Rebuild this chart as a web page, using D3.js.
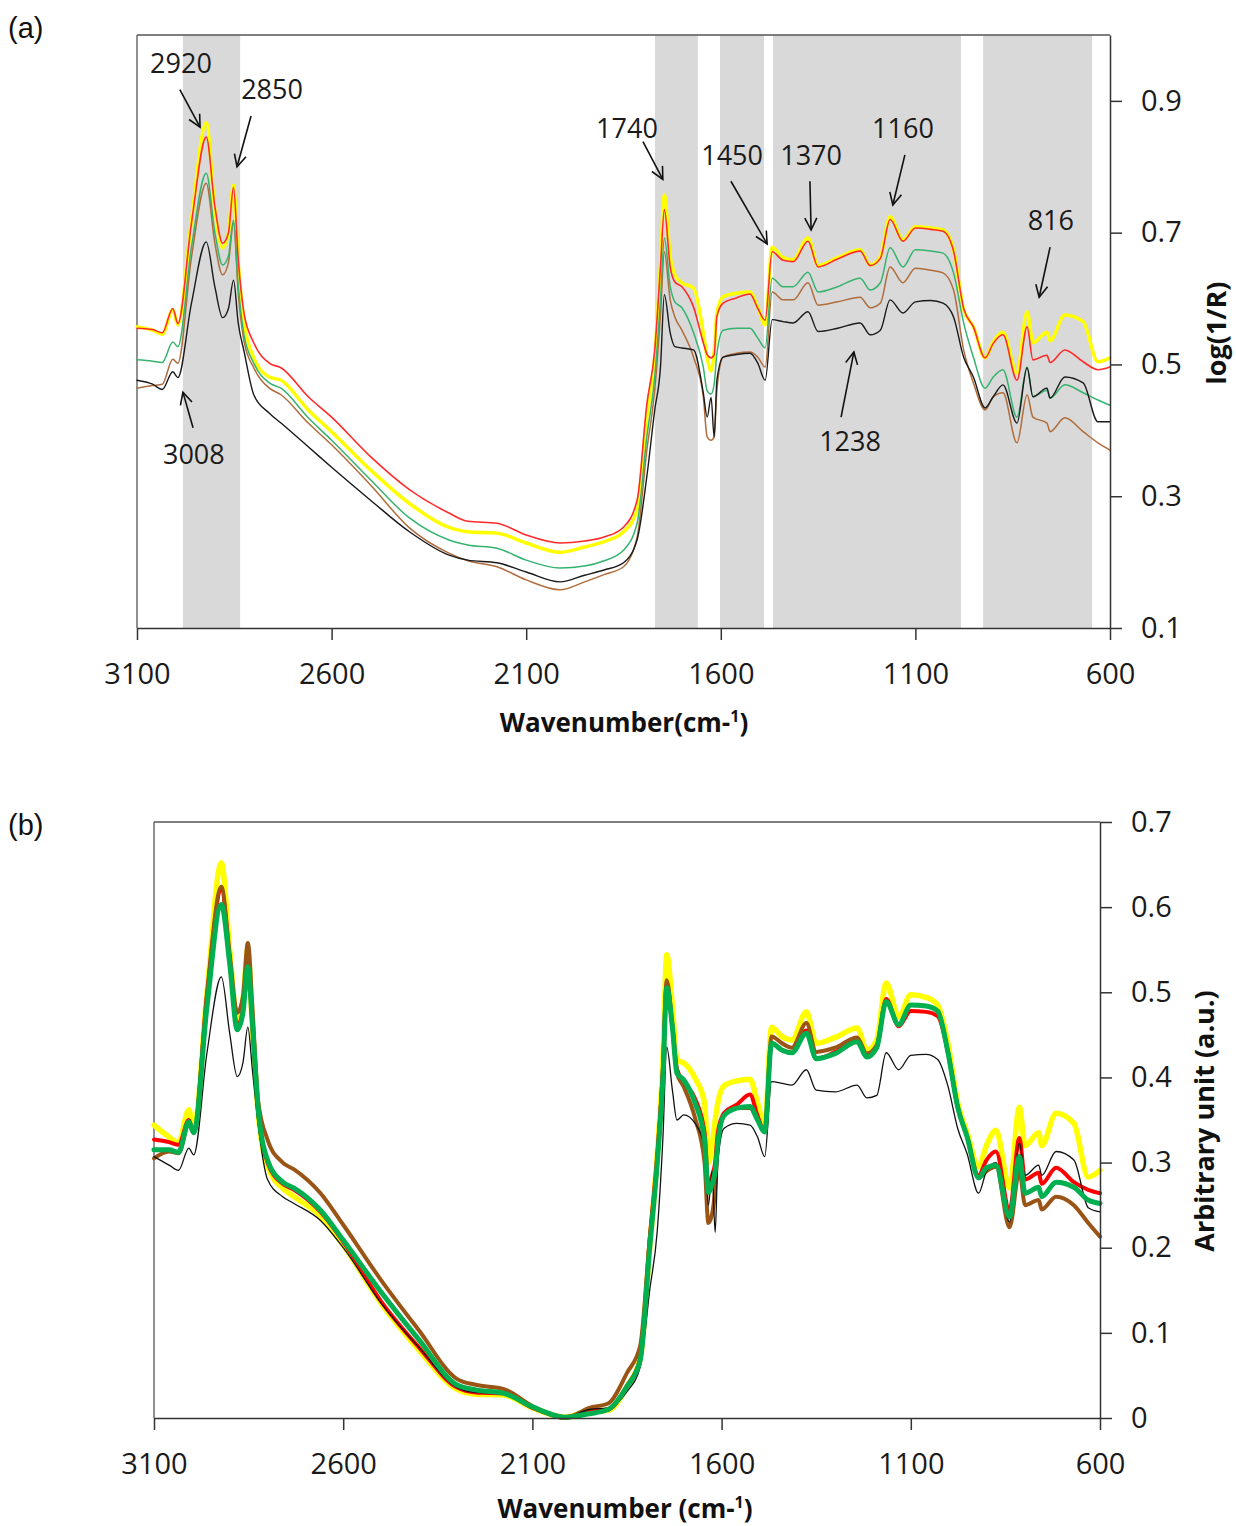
<!DOCTYPE html>
<html>
<head>
<meta charset="utf-8">
<script src="https://cdn.jsdelivr.net/npm/d3@7"></script>
<style>
  html, body { margin: 0; padding: 0; background: #fff; }
  svg { display: block; }
</style>
</head>
<body>
<svg id="chart" width="1236" height="1526"></svg>
<script>
// ---------- data ----------
const wavenumbers = [3100,3060,3035,3008,2995,2960,2922,2900,2880,2865,2852,2840,2825,2800,2760,2730,2660,2600,2500,2400,2300,2250,2175,2100,2013,1950,1900,1850,1815,1790,1770,1755,1745,1730,1718,1700,1670,1645,1635,1625,1617,1610,1594,1560,1525,1505,1486,1468,1440,1414,1376,1350,1300,1242,1216,1190,1165,1132,1100,1060,1029,1002,976,951,921,900,875,839,813,798,762,754,716,669,631,600];

// panel (a): log(1/R)
const aYellow = [.557,.552,.546,.583,.560,.719,.867,.735,.677,.700,.772,.655,.565,.510,.481,.476,.431,.398,.340,.289,.253,.246,.244,.229,.215,.223,.231,.246,.279,.42,.51,.65,.757,.663,.636,.624,.616,.548,.51,.49,.52,.578,.603,.608,.610,.587,.560,.678,.662,.659,.692,.650,.662,.674,.651,.663,.724,.689,.709,.707,.704,.674,.583,.557,.510,.534,.549,.487,.580,.533,.549,.536,.575,.565,.504,.510];
const aRed    = [.555,.553,.548,.585,.562,.715,.845,.740,.684,.700,.769,.660,.578,.533,.502,.495,.451,.420,.360,.310,.275,.262,.259,.241,.229,.232,.238,.253,.294,.44,.52,.648,.735,.648,.625,.618,.587,.533,.515,.51,.515,.573,.593,.601,.607,.585,.567,.671,.658,.656,.687,.648,.660,.672,.650,.661,.720,.687,.707,.705,.702,.672,.585,.557,.510,.532,.545,.476,.557,.507,.514,.503,.522,.504,.492,.496];
const aGreen  = [.507,.505,.503,.534,.527,.678,.790,.700,.651,.665,.719,.620,.545,.502,.472,.464,.419,.385,.325,.267,.234,.226,.221,.203,.191,.194,.202,.218,.259,.39,.48,.598,.692,.618,.595,.586,.548,.496,.46,.455,.47,.517,.552,.555,.555,.540,.525,.631,.618,.618,.640,.610,.618,.631,.613,.624,.677,.648,.674,.672,.669,.639,.563,.511,.464,.481,.492,.420,.496,.451,.461,.449,.469,.457,.446,.438];
const aBrown  = [.464,.468,.470,.508,.502,.663,.775,.684,.636,.655,.715,.610,.535,.495,.464,.454,.411,.378,.317,.252,.214,.202,.193,.173,.158,.170,.181,.193,.238,.37,.46,.575,.671,.598,.572,.552,.511,.451,.39,.385,.39,.461,.511,.517,.519,.511,.496,.610,.598,.598,.624,.590,.595,.602,.586,.593,.648,.624,.646,.643,.639,.613,.522,.472,.431,.451,.457,.381,.454,.420,.411,.398,.419,.398,.381,.370];
const aBlack  = [.476,.470,.462,.489,.480,.593,.686,.618,.571,.585,.628,.563,.520,.454,.426,.411,.375,.344,.294,.246,.211,.203,.199,.185,.170,.180,.188,.199,.234,.33,.43,.496,.606,.548,.527,.525,.522,.457,.42,.45,.39,.476,.511,.515,.517,.502,.476,.568,.565,.563,.580,.550,.555,.563,.545,.552,.598,.578,.595,.597,.593,.572,.511,.481,.434,.451,.469,.411,.495,.451,.464,.449,.481,.472,.413,.413];

// panel (b): arbitrary unit
const bYellow = [.344,.330,.323,.362,.338,.499,.652,.550,.465,.490,.550,.460,.360,.296,.270,.260,.237,.203,.135,.080,.034,.028,.027,.012,.001,.008,.009,.037,.070,.20,.31,.42,.544,.483,.420,.417,.399,.370,.30,.32,.35,.370,.390,.396,.398,.370,.342,.459,.448,.444,.477,.440,.447,.458,.432,.444,.511,.471,.497,.494,.485,.440,.370,.335,.295,.320,.338,.270,.365,.320,.335,.320,.358,.346,.283,.291];
const bRed    = [.327,.324,.321,.350,.336,.495,.620,.540,.460,.480,.535,.460,.363,.300,.275,.268,.242,.207,.137,.083,.036,.030,.029,.012,.001,.008,.010,.038,.070,.21,.31,.41,.510,.460,.410,.395,.375,.335,.27,.285,.30,.335,.358,.368,.380,.355,.336,.440,.432,.429,.455,.422,.430,.444,.425,.435,.492,.460,.478,.477,.472,.430,.365,.330,.285,.303,.313,.244,.329,.280,.288,.275,.294,.277,.268,.264];
const bGreen  = [.315,.315,.312,.348,.335,.483,.603,.534,.456,.476,.530,.464,.365,.303,.277,.270,.244,.209,.148,.092,.039,.033,.029,.013,.001,.005,.010,.037,.068,.20,.30,.40,.505,.459,.405,.397,.370,.327,.265,.275,.29,.323,.355,.364,.366,.350,.336,.440,.432,.429,.452,.422,.428,.442,.424,.435,.489,.462,.485,.484,.478,.430,.365,.330,.282,.294,.297,.236,.307,.264,.271,.260,.277,.271,.256,.252];
const bBrown  = [.305,.313,.311,.345,.335,.499,.624,.545,.476,.495,.558,.483,.373,.327,.300,.292,.264,.227,.162,.103,.046,.039,.034,.014,.000,.012,.017,.053,.085,.21,.30,.41,.514,.460,.405,.389,.352,.300,.229,.24,.27,.323,.355,.364,.364,.350,.336,.448,.440,.435,.464,.430,.435,.447,.428,.438,.490,.462,.485,.484,.478,.430,.365,.330,.282,.290,.295,.224,.290,.250,.256,.245,.260,.250,.229,.213];
const bBlack  = [.307,.297,.291,.317,.309,.429,.518,.452,.401,.417,.459,.409,.346,.280,.260,.252,.232,.200,.135,.083,.036,.030,.029,.012,.001,.010,.012,.031,.060,.15,.22,.33,.436,.385,.350,.356,.346,.318,.25,.29,.218,.30,.340,.346,.344,.330,.307,.395,.393,.391,.409,.385,.383,.391,.376,.379,.429,.409,.426,.427,.421,.390,.340,.310,.264,.290,.300,.230,.323,.285,.297,.285,.313,.303,.247,.242];

const xTickValues = [3100,2600,2100,1600,1100,600];
const aYTickValues = [0.1,0.3,0.5,0.7,0.9];
const bYTickValues = [0,0.1,0.2,0.3,0.4,0.5,0.6,0.7];

// shaded regions in panel (a), [from, to] wavenumber
const bandStarts = [2982,1769,1602,1466,926];
const bandEnds   = [2835,1659,1489,983,646];

// peak annotations in panel (a): label, arrow tip, arrow tail, label centre (wavenumber, value)
const annLabels = ["2920","2850","3008","1740","1450","1370","1160","816","1238"];
const annTips   = [[2938,.860],[2843,.800],[2982,.458],[1749,.781],[1481,.683],[1368,.704],[1158,.742],[782,.602],[1258,.519]];
const annTails  = [[2990,.917],[2807,.877],[2956,.404],[1800,.838],[1574,.778],[1371,.778],[1127,.818],[754,.678],[1291,.420]];
const annText   = [[2987,.957],[2753,.918],[2954,.363],[1841,.859],[1571,.818],[1368,.818],[1132,.859],[752,.719],[1268,.384]];

// ---------- drawing ----------
const svg = d3.select("#chart");
svg.append("rect").attr("width",1236).attr("height",1526).attr("fill","#fff");

const FONT = "'Open Sans', 'DejaVu Sans', sans-serif";

svg.append("defs").append("marker")
  .attr("id","arrow").attr("markerUnits","userSpaceOnUse")
  .attr("markerWidth",16).attr("markerHeight",16)
  .attr("refX",13).attr("refY",7).attr("orient","auto")
  .append("path").attr("d","M1,1 L13,7 L1,13")
  .attr("fill","none").attr("stroke","#111").attr("stroke-width",1.6);

function drawPanel(opt) {
  const x = d3.scaleLinear().domain([3100,600]).range([opt.left, opt.right]);
  const y = d3.scaleLinear().domain(opt.yDomain).range([opt.bottom, opt.top]);
  const g = svg.append("g");

  if (opt.bands) {
    g.selectAll("rect.band").data(bandStarts).enter().append("rect")
      .attr("class","band")
      .attr("x",(d)=>x(d))
      .attr("width",(d,i)=>x(bandEnds[i]) - x(d))
      .attr("y",opt.top).attr("height",opt.bottom-opt.top)
      .attr("fill","#d9d9d9");
  }

  // frame (left and top)
  g.append("line").attr("x1",opt.left).attr("x2",opt.left).attr("y1",opt.top).attr("y2",opt.bottom)
    .attr("stroke","#555").attr("stroke-width",1.3);
  g.append("line").attr("x1",opt.left).attr("x2",opt.right).attr("y1",opt.top).attr("y2",opt.top)
    .attr("stroke","#555").attr("stroke-width",1.3);

  const line = d3.line()
    .x((d,i)=>x(wavenumbers[i]))
    .y(d=>y(d))
    .curve(d3.curveMonotoneX);

  opt.series.forEach(s => {
    g.append("path").datum(s.values)
      .attr("d", line)
      .attr("fill","none")
      .attr("stroke", s.color)
      .attr("stroke-width", s.width)
      .attr("stroke-linejoin","round")
      .attr("stroke-linecap","round");
  });

  // axes
  const xAxis = d3.axisBottom(x).tickValues(xTickValues).tickFormat(d3.format("d"))
    .tickSize(12).tickSizeOuter(0).tickPadding(opt.xPad);
  const gx = g.append("g").attr("transform",`translate(0,${opt.bottom})`).call(xAxis);
  const yAxis = d3.axisRight(y).tickValues(opt.yTicks).tickFormat(opt.yFormat)
    .tickSize(12).tickSizeOuter(0).tickPadding(opt.yPad);
  const gy = g.append("g").attr("transform",`translate(${opt.right},0)`).call(yAxis);
  [gx, gy].forEach(a => {
    a.selectAll(".domain").attr("stroke","#333").attr("stroke-width",1.5);
    a.selectAll(".tick line").attr("stroke","#333").attr("stroke-width",1.5);
    a.selectAll("text").attr("font-family",FONT).attr("font-size",29).attr("fill","#1a1a1a");
  });

  // x title
  const xt = g.append("text").attr("x",opt.xTitleX).attr("y",opt.xTitleY)
    .attr("text-anchor","middle").attr("font-family",FONT).attr("font-weight","bold")
    .attr("font-size",26).attr("fill","#111");
  xt.append("tspan").text(opt.xTitle);
  xt.append("tspan").attr("dy",-10).attr("font-size",16).text("1");
  xt.append("tspan").attr("dy",10).text(")");

  // y title
  g.append("text")
    .attr("transform",`translate(${opt.yTitleX},${opt.yTitleY}) rotate(-90)`)
    .attr("text-anchor","middle").attr("font-family",FONT).attr("font-weight","bold")
    .attr("font-size",27).attr("fill","#111").text(opt.yTitle);

  // panel label
  svg.append("text").attr("x",8).attr("y",opt.labelY)
    .attr("font-family","'Liberation Sans', Arial, sans-serif").attr("font-size",29)
    .attr("fill","#111").text(opt.label);

  return {x, y, g};
}

const pa = drawPanel({
  left:137, right:1110, top:35, bottom:628, yDomain:[0.1,1.0],
  bands:true,
  series:[
    {values:aYellow, color:"#ffff00", width:3.5},
    {values:aBrown,  color:"#b06c3c", width:1.5},
    {values:aGreen,  color:"#35b36e", width:1.5},
    {values:aBlack,  color:"#1a1a1a", width:1.4},
    {values:aRed,    color:"#ff2a2a", width:1.6}
  ],
  yTicks:aYTickValues, yFormat:d3.format(".1f"),
  xPad:23, yPad:19,
  xTitle:"Wavenumber(cm-", xTitleX:624, xTitleY:732,
  yTitle:"log(1/R)", yTitleX:1226, yTitleY:333,
  label:"(a)", labelY:38
});

const pb = drawPanel({
  left:154, right:1100, top:822, bottom:1418, yDomain:[0,0.7],
  bands:false,
  series:[
    {values:bYellow, color:"#ffff00", width:5.5},
    {values:bRed,    color:"#ff0000", width:4},
    {values:bBrown,  color:"#9a5516", width:4},
    {values:bBlack,  color:"#111111", width:1.3},
    {values:bGreen,  color:"#00b050", width:5}
  ],
  yTicks:bYTickValues, yFormat:(d)=> d===0 ? "0" : d3.format(".1f")(d),
  xPad:23, yPad:19,
  xTitle:"Wavenumber (cm-", xTitleX:625, xTitleY:1518,
  yTitle:"Arbitrary unit (a.u.)", yTitleX:1214, yTitleY:1121,
  label:"(b)", labelY:835
});

// annotations on panel (a)
const ann = pa.g.append("g");
annLabels.forEach((lab,i) => {
  ann.append("line")
    .attr("x1",pa.x(annTails[i][0])).attr("y1",pa.y(annTails[i][1]))
    .attr("x2",pa.x(annTips[i][0])).attr("y2",pa.y(annTips[i][1]))
    .attr("stroke","#111").attr("stroke-width",1.6)
    .attr("marker-end","url(#arrow)");
  ann.append("text")
    .attr("x",pa.x(annText[i][0])).attr("y",pa.y(annText[i][1]))
    .attr("text-anchor","middle").attr("dy","0.36em")
    .attr("font-family",FONT).attr("font-size",27).attr("fill","#1a1a1a")
    .text(lab);
});
</script>
</body>
</html>
